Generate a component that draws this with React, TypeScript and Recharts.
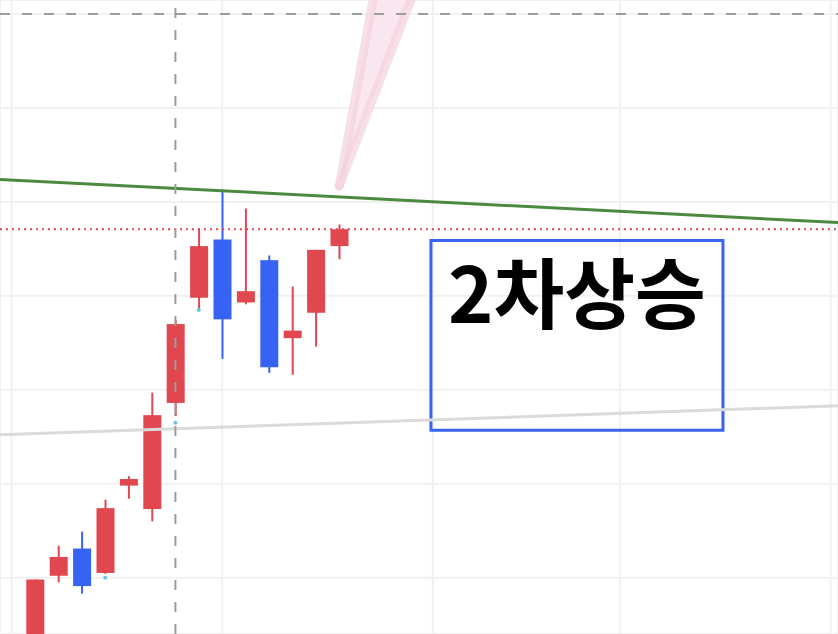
import {
  ComposedChart,
  Bar,
  Area,
  XAxis,
  YAxis,
  CartesianGrid,
  ReferenceLine,
  ReferenceArea,
  ReferenceDot,
} from 'recharts';

// 캔들 색상 (상승 빨강, 하락 파랑)
const RED = '#e0474f';
const BLUE = '#3763f4';

// 봉 데이터 (시가 / 고가 / 저가 / 종가)
const idxs = [0, 1, 2, 3, 4, 5, 6, 7, 8, 9, 10, 11, 12, 13];
const opens = [925, 1002, 1031, 1005, 1098, 1073, 1186, 1298, 1360, 1293, 1338, 1255, 1282, 1353];
const highs = [998, 1034, 1049, 1083, 1108, 1197, 1274, 1372, 1413, 1393, 1343, 1310, 1349, 1376];
const lows = [915, 995, 983, 1004, 1084, 1060, 1172, 1285, 1233, 1291, 1218, 1216, 1246, 1339];
const closes = [998, 1022, 991, 1074, 1105, 1173, 1270, 1353, 1275, 1305, 1224, 1263, 1349, 1371];

// 축 눈금 (그리드)
const priceTicks = [1000, 1100, 1200, 1300, 1400, 1500, 1600];
const timeTicks = [-1, 8, 17, 25, 34];

// 추세선
const greenLine = [
  { x: -1.5, y: 1424 },
  { x: 34.32, y: 1378 },
];
const grayLine = [
  { x: -1.5, y: 1152 },
  { x: 34.32, y: 1183 },
];
const lastPrice = 1371;
const topLevel = 1600;
const markIdx = 6;

// 분홍 부채꼴
const coneLeft = [
  { x: 13, y: 1417 },
  { x: 14.68, y: 1647 },
];
const coneRight = [
  { x: 13, y: 1417 },
  { x: 16.56, y: 1647 },
];
const coneFill = [
  { idx: 13, band: [1417, 1417] },
  { idx: 14.68, band: [1526, 1647] },
  { idx: 16.56, band: [1647, 1647] },
];

// 앵커 점
const anchors = [
  { x: 7, y: 1285 },
  { x: 6, y: 1165 },
  { x: 3, y: 1000 },
];

// 박스 (2차상승)
const boxX = [16.92, 29.4];
const boxY = [1157, 1359];

const data = idxs.map((idx, i) => ({
  idx,
  open: opens[i],
  high: highs[i],
  low: lows[i],
  close: closes[i],
  range: [lows[i], highs[i]],
}));

function Candle(props: any) {
  const { x, y, width, height, payload } = props;
  if (x == null || y == null) return null;
  const { open, close, high, low } = payload;
  const color = close >= open ? RED : BLUE;
  const top = Math.min(y, y + height);
  const h = Math.abs(height);
  const ratio = h / (high - low || 1);
  const bodyTop = top + (high - Math.max(open, close)) * ratio;
  const bodyH = Math.max(Math.abs(open - close) * ratio, 1);
  const cx = x + width / 2;
  return (
    <g>
      <line x1={cx} x2={cx} y1={top} y2={top + h} stroke={color} strokeWidth={2} />
      <rect x={x} y={bodyTop} width={width} height={bodyH} fill={color} />
    </g>
  );
}

export default function App() {
  return (
    <div style={{ position: 'absolute', left: 0, top: 0, width: 838, height: 634, background: '#fff' }}>
      <style>{'body{margin:0}'}</style>
      <ComposedChart width={838} height={634} data={data} margin={{ top: 0, right: 0, bottom: 0, left: 0 }}>
        <XAxis
          dataKey="idx"
          type="number"
          domain={[-1.4957, 34.316]}
          ticks={timeTicks}
          allowDataOverflow
          hide
        />
        <YAxis type="number" domain={[940, 1615]} ticks={priceTicks} allowDataOverflow hide />
        <CartesianGrid stroke="#f1f1f1" strokeWidth={2} />

        <ReferenceLine segment={grayLine} stroke="#dadada" strokeWidth={3} ifOverflow="visible" />

        <Area
          data={coneFill}
          dataKey="band"
          type="linear"
          stroke="none"
          fill="#f9e6ee"
          fillOpacity={1}
          isAnimationActive={false}
          activeDot={false}
        />
        <ReferenceLine
          segment={coneLeft}
          stroke="#f4d2de"
          strokeOpacity={0.7}
          strokeWidth={9}
          strokeLinecap="round"
          ifOverflow="visible"
        />
        <ReferenceLine
          segment={coneRight}
          stroke="#f4d2de"
          strokeOpacity={0.7}
          strokeWidth={9}
          strokeLinecap="round"
          ifOverflow="visible"
        />

        <ReferenceLine segment={greenLine} stroke="#4b8a3e" strokeWidth={3} ifOverflow="visible" />

        <ReferenceLine y={topLevel} stroke="#9c9c9c" strokeWidth={2} strokeDasharray="10 12" />
        <ReferenceLine y={lastPrice} stroke={RED} strokeWidth={2} strokeDasharray="2 4" />

        <Bar dataKey="range" barSize={18} shape={<Candle />} isAnimationActive={false} />

        <ReferenceLine x={markIdx} stroke="#9c9c9c" strokeWidth={2} strokeDasharray="10 12" />

        <ReferenceArea
          x1={boxX[0]}
          x2={boxX[1]}
          y1={boxY[0]}
          y2={boxY[1]}
          stroke="#3a63ef"
          strokeWidth={3}
          fill="none"
          fillOpacity={0}
          ifOverflow="visible"
          label={{
            value: '2차상승',
            position: 'insideTop',
            offset: 28,
            fill: '#000',
            fontSize: 77,
            fontWeight: 700,
            fontFamily: '"Noto Sans CJK KR", "Noto Sans", sans-serif',
          }}
        />

        {anchors.map((a, i) => (
          <ReferenceDot key={`anchor-${i}`} x={a.x} y={a.y} r={2} fill="#6cc3e2" stroke="none" />
        ))}
      </ComposedChart>
    </div>
  );
}
